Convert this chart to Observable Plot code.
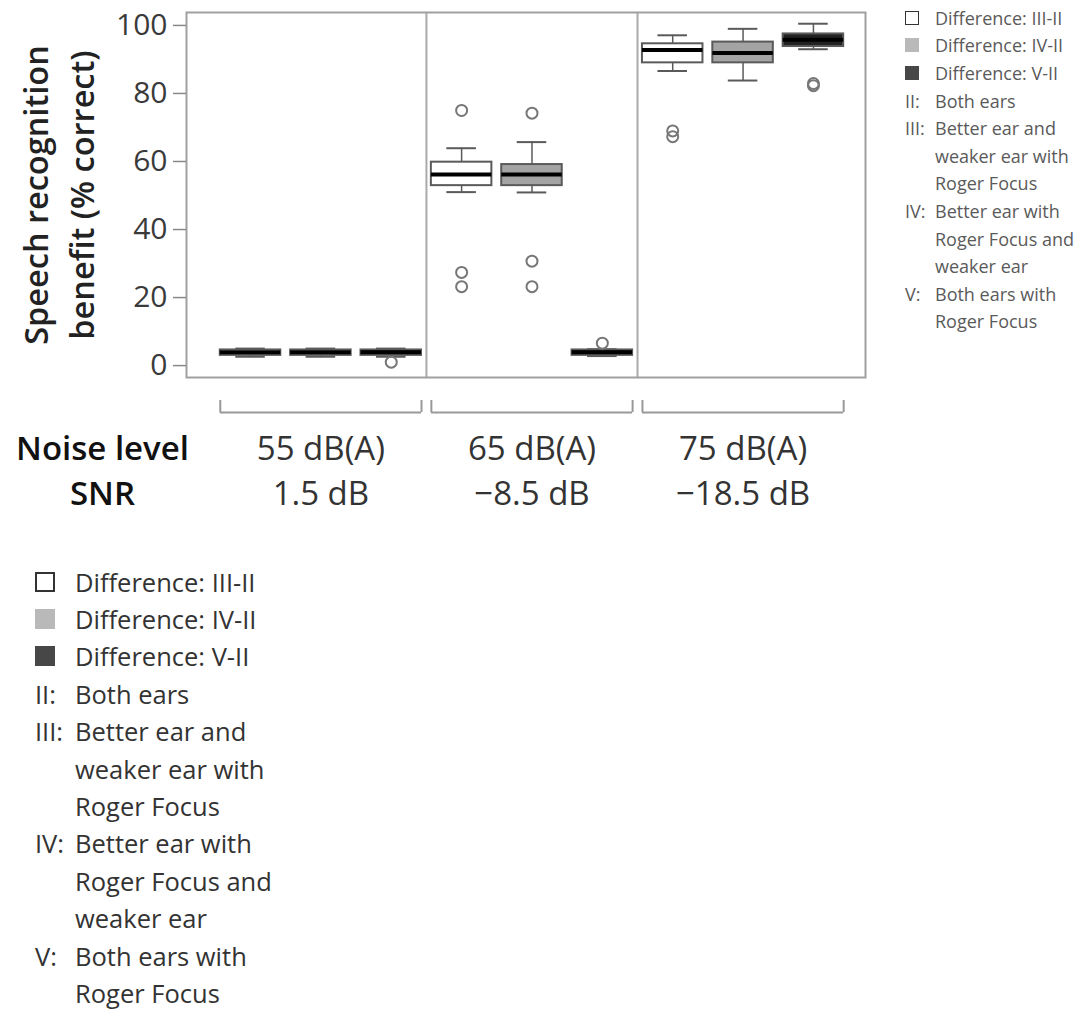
<!DOCTYPE html>
<html>
<head>
<meta charset="utf-8">
<script src="https://cdn.jsdelivr.net/npm/d3@7"></script>
<script src="https://cdn.jsdelivr.net/npm/@observablehq/plot@0.6"></script>
<style>
  body { margin: 0; background: #fff; font-family: "Open Sans", Lato, sans-serif; }
  #wrap { position: relative; width: 1074px; }
  .leg-row { display: flex; align-items: center; white-space: nowrap; }
  .sw { display: inline-block; box-sizing: border-box; }
</style>
</head>
<body>
<div id="wrap"></div>
<script>
// ---- data ----
const noiseLevels = ["55 dB(A)", "65 dB(A)", "75 dB(A)"];
const snrLabels = ["1.5 dB", "\u22128.5 dB", "\u221218.5 dB"];
const series = ["Difference: III-II", "Difference: IV-II", "Difference: V-II"];
const seriesFill = ["#ffffff", "#a4a4a4", "#222222"];
const swatchFill = ["#ffffff", "#b9b9b9", "#474747"];
// box statistics, ordered noise level x series (III-II, IV-II, V-II)
const whiskerLow  = [2.6, 2.6, 2.6, 51.0, 50.9, 2.8, 86.6, 83.8, 93.0];
const quart1      = [3.0, 3.0, 3.0, 52.9, 52.9, 3.0, 89.0, 89.0, 93.8];
const medians     = [3.9, 3.9, 3.9, 56.2, 56.2, 3.9, 92.8, 91.9, 95.8];
const quart3      = [4.6, 4.6, 4.6, 59.8, 59.1, 4.6, 94.6, 95.1, 97.5];
const whiskerHigh = [5.0, 5.0, 5.0, 63.9, 65.7, 4.8, 97.1, 99.0, 100.5];
const outliers = [[], [], [1.0], [75.0, 27.4, 23.2], [74.2, 30.7, 23.2], [6.6], [69.0, 67.3], [], [82.9, 82.3]];
const yTicks = [0, 20, 40, 60, 80, 100];
const yLabel = "Speech recognition\nbenefit (% correct)";
const rowHeaders = ["Noise level", "SNR"];
const condCodes = ["II:", "III:", "IV:", "V:"];
const condText = [["Both ears"], ["Better ear and", "weaker ear with", "Roger Focus"], ["Better ear with", "Roger Focus and", "weaker ear"], ["Both ears with", "Roger Focus"]];

// ---- derived tables ----
const nS = series.length;
const boxes = medians.map((m, i) => ({
  pos: i + 1, group: Math.floor(i / nS), s: i % nS,
  fill: seriesFill[i % nS],
  lo: whiskerLow[i], q1: quart1[i], med: m, q3: quart3[i], hi: whiskerHigh[i]
}));
const outlierRows = boxes.flatMap((b, i) => outliers[i].map(v => ({pos: b.pos, v})));
const groups = noiseLevels.map((n, g) => ({
  noise: n, snr: snrLabels[g], first: g * nS + 1, last: g * nS + nS, center: g * nS + (nS + 1) / 2
}));
const dividers = groups.slice(1).map(g => g.first - 0.5);
const HB = 0.43, HC = 0.21;
const bracketEnds = groups.flatMap(g => [g.first - HB, g.last + HB]);
const yDomain = [-3.5, 103.8];

const font = '"Open Sans", Lato, sans-serif';
const plot = Plot.plot({
  width: 1074, height: 530,
  marginLeft: 186, marginRight: 209, marginTop: 12, marginBottom: 153,
  style: {fontFamily: font, background: "#fff", color: "#333", overflow: "visible"},
  x: {domain: [0.09, 9.74], axis: null},
  y: {domain: yDomain, axis: null},
  color: {type: "identity"},
  marks: [
    Plot.ruleX(dividers, {stroke: "#aaa", strokeWidth: 2}),
    Plot.frame({stroke: "#a0a0a0", strokeWidth: 2}),
    Plot.axisY({ticks: yTicks, tickSize: 13, tickPadding: 6, fontSize: 30, stroke: "#888", strokeWidth: 1.5, fill: "#3a3a3a", label: null}),
    // whiskers
    Plot.ruleX(boxes, {x: "pos", y1: "q3", y2: "hi", stroke: "#5a5a5a", strokeWidth: 1.5}),
    Plot.ruleX(boxes, {x: "pos", y1: "lo", y2: "q1", stroke: "#5a5a5a", strokeWidth: 1.5}),
    Plot.ruleY(boxes, {x1: d => d.pos - HC, x2: d => d.pos + HC, y: "hi", stroke: "#5a5a5a", strokeWidth: 2}),
    Plot.ruleY(boxes, {x1: d => d.pos - HC, x2: d => d.pos + HC, y: "lo", stroke: "#5a5a5a", strokeWidth: 2}),
    // boxes
    Plot.rect(boxes, {x1: d => d.pos - HB, x2: d => d.pos + HB, y1: "q1", y2: "q3", fill: "fill", stroke: "#5a5a5a", strokeWidth: 2}),
    Plot.ruleY(boxes, {x1: d => d.pos - HB, x2: d => d.pos + HB, y: "med", stroke: "#000", strokeWidth: 4}),
    // outliers
    Plot.dot(outlierRows, {x: "pos", y: "v", r: 5.5, stroke: "#777", strokeWidth: 2, fill: "none"}),
    // y label
    Plot.text([yLabel], {frameAnchor: "left", rotate: -90, dx: -130, lineHeight: 1.4, fontSize: 32.5, fontWeight: 600, fill: "#222", textAnchor: "middle", lineAnchor: "middle"}),
    // brackets under the panels
    Plot.ruleY(groups, {x1: d => d.first - HB, x2: d => d.last + HB, y: () => yDomain[0], dy: 35, stroke: "#999", strokeWidth: 2}),
    Plot.ruleX(bracketEnds, {x: d => d, y1: () => yDomain[0], y2: () => yDomain[0], insetTop: -12, dy: 35, stroke: "#999", strokeWidth: 2}),
    // row labels
    Plot.text([rowHeaders[0]], {frameAnchor: "bottom-left", dx: -84, dy: 72, fontSize: 33, fontWeight: 600, fill: "#111", textAnchor: "middle", lineAnchor: "middle"}),
    Plot.text([rowHeaders[1]], {frameAnchor: "bottom-left", dx: -84, dy: 117, fontSize: 33, fontWeight: 600, fill: "#111", textAnchor: "middle", lineAnchor: "middle"}),
    Plot.text(groups, {x: "center", text: "noise", frameAnchor: "bottom", dy: 72, fontSize: 33, fill: "#333", textAnchor: "middle", lineAnchor: "middle"}),
    Plot.text(groups, {x: "center", text: "snr", frameAnchor: "bottom", dy: 117, fontSize: 33, fill: "#333", textAnchor: "middle", lineAnchor: "middle"})
  ]
});
const wrap = document.getElementById("wrap");
wrap.appendChild(plot);

function buildLegend(opts) {
  const el = document.createElement("div");
  Object.assign(el.style, opts.style);
  el.style.fontSize = opts.fontSize + "px";
  el.style.color = opts.color;
  const lh = opts.lineHeight + "px";
  series.forEach((s, k) => {
    const row = document.createElement("div");
    row.className = "leg-row"; row.style.height = lh;
    const sw = document.createElement("span");
    sw.className = "sw";
    sw.style.width = opts.swatch + "px"; sw.style.height = opts.swatch + "px";
    sw.style.background = swatchFill[k];
    if (k === 0) sw.style.border = opts.border + "px solid #333";
    const pad = document.createElement("span");
    pad.style.display = "inline-block"; pad.style.width = (opts.textX - opts.swatch) + "px";
    const t = document.createElement("span"); t.textContent = s;
    row.append(sw, pad, t); el.appendChild(row);
  });
  condCodes.forEach((c, k) => {
    condText[k].forEach((line, j) => {
      const row = document.createElement("div");
      row.className = "leg-row"; row.style.height = lh;
      const p = document.createElement("span");
      p.style.display = "inline-block"; p.style.width = opts.textX + "px";
      p.textContent = j === 0 ? c : "";
      const t = document.createElement("span"); t.textContent = line;
      row.append(p, t); el.appendChild(row);
    });
  });
  return el;
}

wrap.appendChild(buildLegend({
  style: {position: "absolute", left: "905px", top: "4px"},
  fontSize: 18, lineHeight: 27.6, swatch: 14, border: 1.5, textX: 30, color: "#5a5a5a"
}));
wrap.appendChild(buildLegend({
  style: {marginLeft: "35px", marginTop: "33px"},
  fontSize: 25.5, lineHeight: 37.4, swatch: 20, border: 2, textX: 40, color: "#333"
}));
</script>
</body>
</html>
